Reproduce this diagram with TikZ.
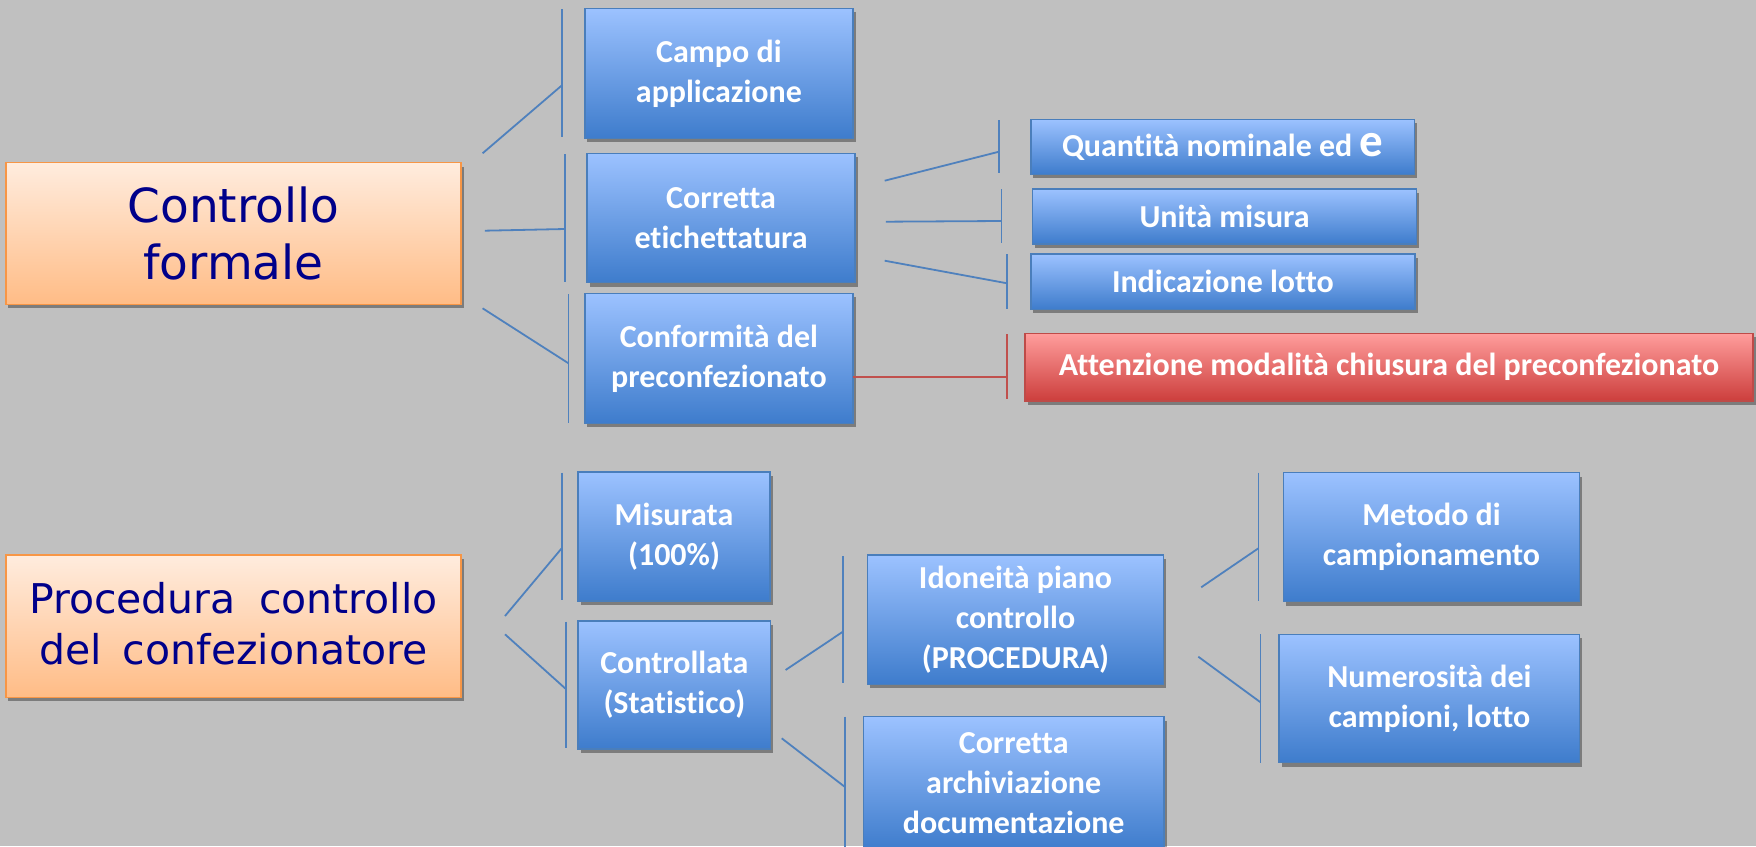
\documentclass[tikz,border=0pt]{standalone}
\usepackage{fontspec}
\usetikzlibrary{shadows}
\newfontfamily\carlito[Ligatures=NoCommon]{Carlito}
\newfontfamily\dejavu{DejaVu Sans}
\definecolor{bgc}{RGB}{192,192,192}
\definecolor{bluetop}{RGB}{156,194,255}
\definecolor{bluebot}{RGB}{62,124,204}
\definecolor{bluebord}{RGB}{74,126,187}
\definecolor{orgtop}{RGB}{255,236,222}
\definecolor{orgbot}{RGB}{255,188,134}
\definecolor{orgbord}{RGB}{247,150,70}
\definecolor{redtop}{RGB}{255,157,156}
\definecolor{redbot}{RGB}{204,62,60}
\definecolor{redbord}{RGB}{190,75,72}
\definecolor{navy}{RGB}{0,0,138}
\definecolor{conblue}{RGB}{79,129,189}
\definecolor{conred}{RGB}{192,80,77}
\tikzset{
  boxbase/.style={rectangle, line width=1.5pt, inner sep=0pt, align=center,
    drop shadow={shadow xshift=2.5pt, shadow yshift=-4pt, opacity=0.35, fill=black}},
  bluebox/.style={boxbase, draw=bluebord, top color=bluetop, bottom color=bluebot,
    text=white, font=\carlito\bfseries\fontsize{32}{40}\selectfont},
  redbox/.style={boxbase, draw=redbord, top color=redtop, bottom color=redbot,
    text=white, font=\carlito\bfseries\fontsize{32}{40}\selectfont},
  titlebox/.style={boxbase, draw=orgbord, top color=orgtop, bottom color=orgbot,
    text=navy},
  conn/.style={draw=conblue, line width=1.8pt},
  connred/.style={draw=conred, line width=1.8pt}
}
\begin{document}
\begin{tikzpicture}[x=1pt, y=-1pt]
\useasboundingbox (0,0) rectangle (1756,846);
\clip (0,0) rectangle (1756,846);
\fill[bgc] (0,0) rectangle (1756,846);

% title boxes
\node[titlebox, minimum width=455.3, minimum height=141.6,
  font=\dejavu\fontsize{47}{57}\selectfont] (cf) at (233.4,233.5) {Controllo\\formale};
\node[titlebox, minimum width=455.3, minimum height=142.3,
  font=\dejavu\fontsize{41}{51}\selectfont] (proc) at (233.4,626.2)
  {\raisebox{6pt}{Procedura\hspace{0.25em} controllo}\\\raisebox{6pt}{del\hspace{0.2em} confezionatore}};

% first level
\node[bluebox, minimum width=268.3, minimum height=130] (campo) at (718.9,73.3) {Campo di\\applicazione};
\node[bluebox, minimum width=268.2, minimum height=129.4] (corr) at (721.1,218) {Corretta\\etichettatura};
\node[bluebox, minimum width=268.3, minimum height=130] (conf) at (718.9,358.3) {Conformità del\\preconfezionato};

\node[bluebox, minimum width=383.6, minimum height=55] (quant) at (1222.6,146.8)
  {Quantità nominale ed {\fontsize{47}{47}\selectfont e}};
\node[bluebox, minimum width=384.2, minimum height=55] (unita) at (1224.6,216.5) {Unità misura};
\node[bluebox, minimum width=384.2, minimum height=55.3] (lotto) at (1222.9,281.7) {Indicazione lotto};
\node[redbox, minimum width=728, minimum height=67.7] (att) at (1389,367.2)
  {Attenzione modalità chiusura del preconfezionato};

\node[bluebox, minimum width=192, minimum height=129.3] (mis) at (674,536.4) {Misurata\\(100\%)};
\node[bluebox, minimum width=192.5, minimum height=128.3] (ctrl) at (674.3,684.9) {Controllata\\(Statistico)};
\node[bluebox, minimum width=296.4, minimum height=129.3] (idon) at (1015.5,619.7) {Idoneità piano\\controllo\\(PROCEDURA)};
\node[bluebox, minimum width=300.7, minimum height=133.5] (arch) at (1013.7,783.3) {Corretta\\archiviazione\\documentazione};
\node[bluebox, minimum width=296.3, minimum height=129] (met) at (1431.5,537.2) {Metodo di\\campionamento};
\node[bluebox, minimum width=300.4, minimum height=128.4] (num) at (1429.4,698.5) {Numerosità dei\\campioni, lotto};

% connector coordinates
\coordinate (c1a) at (482.6,153.3); \coordinate (c1b) at (562.3,85);
\coordinate (c1t) at (562.3,9.3);   \coordinate (c1u) at (562.3,136.7);
\coordinate (c2a) at (484.8,230.7); \coordinate (c2b) at (565.1,229);
\coordinate (c2t) at (565.1,154);   \coordinate (c2u) at (565.1,281.7);
\coordinate (c3a) at (482.6,308.3); \coordinate (c3b) at (568.5,363.3);
\coordinate (c3t) at (568.5,294);   \coordinate (c3u) at (568.5,422.7);

\coordinate (qa) at (884.7,180.7); \coordinate (qb) at (999,151.7);
\coordinate (qt) at (999,120);     \coordinate (qu) at (999,173.3);
\coordinate (ua) at (885.8,221.7); \coordinate (ub) at (1001.4,221);
\coordinate (ut) at (1001.4,189.3);\coordinate (uu) at (1001.4,243.3);
\coordinate (la) at (884.7,260.7); \coordinate (lb) at (1007.1,283.3);
\coordinate (lt) at (1007.1,254.3);\coordinate (lu) at (1007.1,308.7);
\coordinate (ra) at (852.9,376.7); \coordinate (rb) at (1007.1,376.7);
\coordinate (rt) at (1007.1,334);  \coordinate (ru) at (1007.1,399.3);

\coordinate (ma) at (505,616);     \coordinate (mb) at (561.7,548.3);
\coordinate (mt) at (561.7,472.7); \coordinate (mu) at (561.7,600);
\coordinate (ka) at (505,634.3);   \coordinate (kb) at (566.2,689.3);
\coordinate (kt) at (566.2,621.7); \coordinate (ku) at (566.2,748.3);
\coordinate (ia) at (785.6,670);   \coordinate (ib) at (842.9,631.7);
\coordinate (it) at (842.9,556);   \coordinate (iu) at (842.9,683.3);
\coordinate (aa) at (781.7,738.3); \coordinate (ab) at (844.6,786.7);
\coordinate (at) at (844.6,716.7); \coordinate (au) at (844.6,850);
\coordinate (ea) at (1201.2,587.3);\coordinate (eb) at (1258.4,548.3);
\coordinate (et) at (1258.4,472.7);\coordinate (eu) at (1258.4,600.7);
\coordinate (na) at (1198.3,656.7);\coordinate (nb) at (1260.5,702.3);
\coordinate (nt) at (1260.5,634.3);\coordinate (nu) at (1260.5,762.7);

% connectors
\foreach \p in {c1,c2,c3,q,u,l,m,k,i,a,e,n}{
  \draw[conn] (\p a) -- (\p b);
  \draw[conn] (\p t) -- (\p u);
}
\draw[connred] (ra) -- (rb);
\draw[connred] (rt) -- (ru);
\end{tikzpicture}
\end{document}
